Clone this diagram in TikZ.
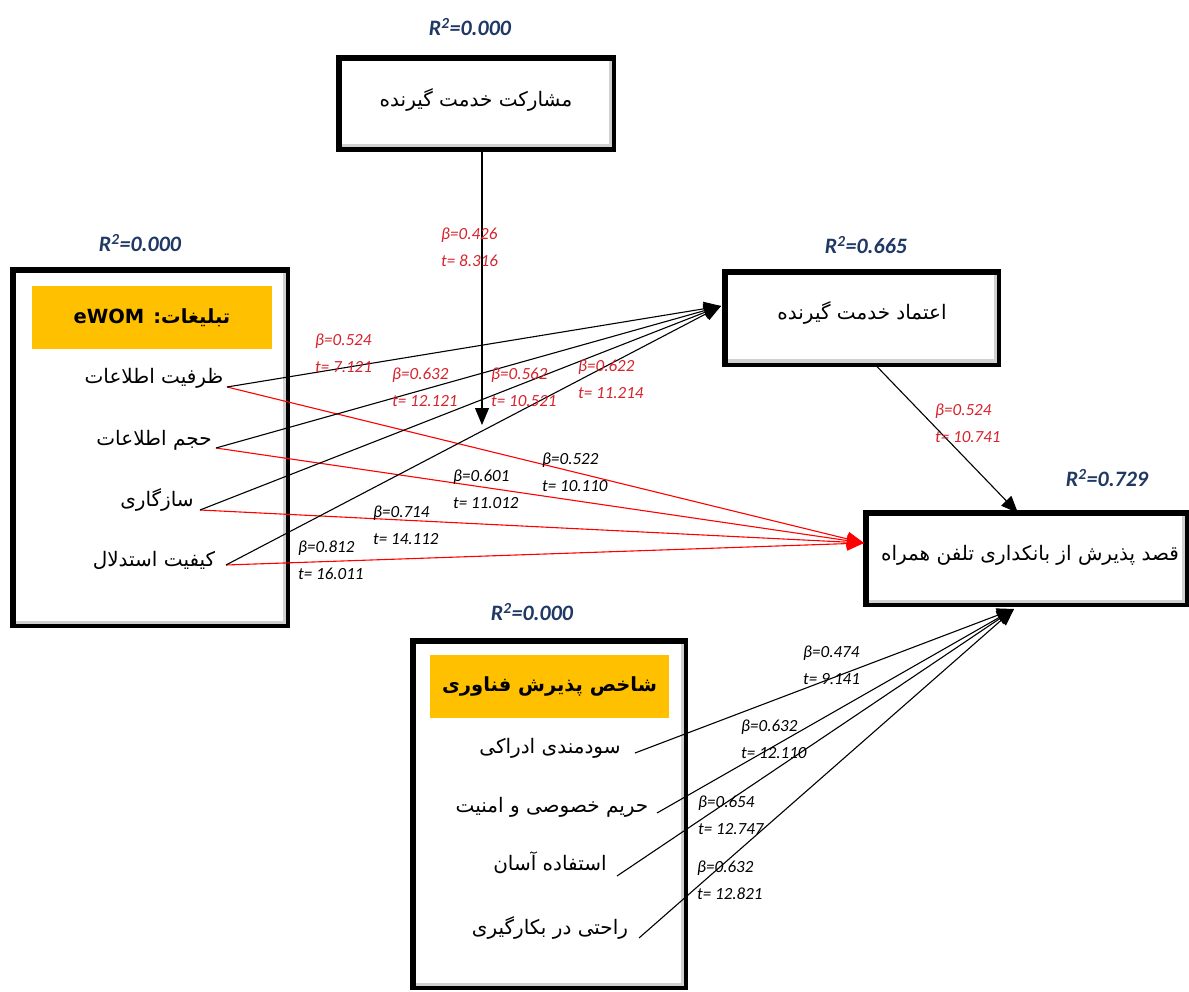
\documentclass[tikz,border=0pt]{standalone}
\usepackage{fontspec}
\setmainfont{Carlito}
\newfontfamily\fa[Script=Arabic]{DejaVu Sans}
\TeXXeTstate=1
\usetikzlibrary{arrows.meta}
\definecolor{rblue}{RGB}{31,56,100}
\definecolor{labred}{RGB}{215,35,45}
\definecolor{gold}{RGB}{255,192,0}
\begin{document}
\begin{tikzpicture}[x=1pt,y=-1pt,
  bigbox/.style={draw=black,line width=6pt,fill=white,inner sep=0pt,font=\fa\fontsize{20}{24}\selectfont},
  hdr/.style={fill=gold,inner sep=0pt,font=\fa\bfseries\fontsize{19.5}{22}\selectfont},
  item/.style={inner sep=0pt,font=\fa\fontsize{20}{24}\selectfont},
  rsq/.style={text=rblue,font=\bfseries\itshape\fontsize{22}{24}\selectfont},
  coef/.style={anchor=west,align=left,inner sep=0pt,font=\itshape\fontsize{17}{27}\selectfont},
  rcoef/.style={coef,text=labred},
  conn/.style={line width=1.1pt},
  tip/.style={-{Triangle[length=17pt,width=14pt]}},
  bev/.style={draw=black!18,line width=3pt}
]
\useasboundingbox (0,0) rectangle (1189,992);

% boxes
\node[bigbox,minimum width=274pt,minimum height=91pt] (part) at (476,103.5) {};
\node[bigbox,minimum width=273pt,minimum height=92pt] (trust) at (861.5,318) {};
\node[bigbox,minimum width=320pt,minimum height=91pt] (intent) at (1026,558.5) {};
\node[bigbox,minimum width=274pt,minimum height=355pt] (ewom) at (150,447.5) {};
\node[bigbox,minimum width=272pt,minimum height=346pt] (tam) at (549,814) {};

% bevel shading inside boxes
\foreach \b in {part,trust,intent,ewom,tam}{
  \draw[bev] ([shift={(6pt,6pt)}]\b.south west) -- ([shift={(-6pt,6pt)}]\b.south east) -- ([shift={(-6pt,-6pt)}]\b.north east);
}

% box texts
\node[item] (partt) at (476,100) {\beginR مشارکت خدمت گیرنده\endR};
\node[item] (trustt) at (862,313) {\beginR اعتماد خدمت گیرنده\endR};
\node[item] (intentt) at (1030,555) {\beginR قصد پذیرش از بانکداری تلفن همراه\endR};

% R^2 labels
\node[rsq] (r1) at (470,27) {R\textsuperscript{2}=0.000};
\node[rsq] (r2) at (140,243) {R\textsuperscript{2}=0.000};
\node[rsq] (r3) at (866,245) {R\textsuperscript{2}=0.665};
\node[rsq] (r4) at (1107,478) {R\textsuperscript{2}=0.729};
\node[rsq] (r5) at (532,612) {R\textsuperscript{2}=0.000};

% headers
\node[hdr,minimum width=240pt,minimum height=63pt] (h1) at (152,317.5) {\beginR تبلیغات: \beginL eWOM\endL\endR};
\node[hdr,minimum width=239pt,minimum height=63pt] (h2) at (549.5,686.5) {\beginR شاخص پذیرش فناوری\endR};

% eWOM items
\node[item] (i1) at (154,378) {\beginR ظرفیت اطلاعات\endR};
\node[item] (i2) at (154,440) {\beginR حجم اطلاعات\endR};
\node[item] (i3) at (157,500) {\beginR سازگاری\endR};
\node[item] (i4) at (154,560) {\beginR کیفیت استدلال\endR};
% TAM items
\node[item] (j1) at (550,748) {\beginR سودمندی ادراکی\endR};
\node[item] (j2) at (552,807) {\beginR حریم خصوصی و امنیت\endR};
\node[item] (j3) at (550,863) {\beginR استفاده آسان\endR};
\node[item] (j4) at (550,928) {\beginR راحتی در بکارگیری\endR};

% connector endpoints
\coordinate (i1o) at (227,387);
\coordinate (i2o) at (216,448);
\coordinate (i3o) at (200,510);
\coordinate (i4o) at (226,565);
\coordinate (j1o) at (635,753);
\coordinate (j2o) at (657,813);
\coordinate (j3o) at (617,876);
\coordinate (j4o) at (639,938);
\coordinate (tin) at (721,306);
\coordinate (rin) at (864,543);
\coordinate (bin) at (1014,609);
\coordinate (pend) at (482,425);

% connectors
\draw[conn,tip] ([xshift=6pt]part.south) -- (pend);
\foreach \s in {i1o,i2o,i3o,i4o}{
  \draw[conn,red,tip] (\s) -- (rin);
}
\foreach \s in {i1o,i2o,i3o,i4o}{
  \draw[conn,tip] (\s) -- (tin);
}
\draw[conn,tip] ([xshift=13pt,yshift=3pt]trust.south) -- ([xshift=-8pt,yshift=-3pt]intent.north);
\foreach \s in {j1o,j2o,j3o,j4o}{
  \draw[conn,tip] (\s) -- (bin);
}

% coefficient labels
\node[rcoef] (c1) at (441,247) {β=0.426\\t= 8.316};
\node[rcoef] (c2) at (315,353) {β=0.524\\t= 7.121};
\node[rcoef] (c3) at (392,387) {β=0.632\\t= 12.121};
\node[rcoef] (c4) at (491,387) {β=0.562\\t= 10.521};
\node[rcoef] (c5) at (578,379.5) {β=0.622\\t= 11.214};
\node[rcoef] (c6) at (935,423.5) {β=0.524\\t= 10.741};
\node[coef] (c7) at (542,472) {β=0.522\\t= 10.110};
\node[coef] (c8) at (453,489) {β=0.601\\t= 11.012};
\node[coef] (c9) at (373,525) {β=0.714\\t= 14.112};
\node[coef] (c10) at (298,560.5) {β=0.812\\t= 16.011};
\node[coef] (c11) at (803,665.5) {β=0.474\\t= 9.141};
\node[coef] (c12) at (741,739.5) {β=0.632\\t= 12.110};
\node[coef] (c13) at (698,815) {β=0.654\\t= 12.747};
\node[coef] (c14) at (697,880.5) {β=0.632\\t= 12.821};
\end{tikzpicture}
\end{document}
